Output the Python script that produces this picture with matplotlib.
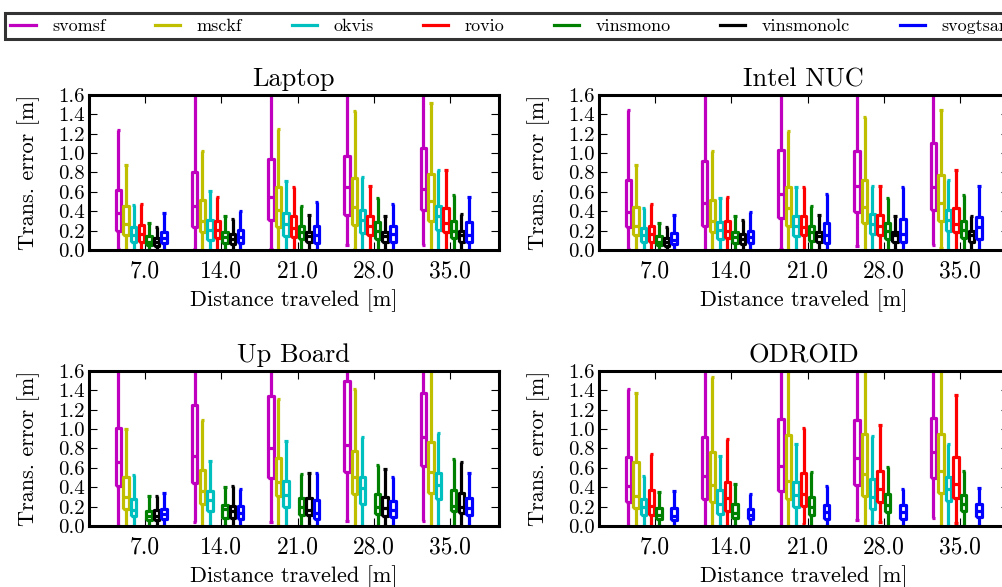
import matplotlib
matplotlib.use('Agg')
import matplotlib.pyplot as plt
from matplotlib.lines import Line2D
import numpy as np

plt.rcParams['font.family'] = 'cmr10'
plt.rcParams['mathtext.fontset'] = 'cm'
plt.rcParams['axes.formatter.use_mathtext'] = True

# Data
distances = [7.0, 14.0, 21.0, 28.0, 35.0]
methods = ['svomsf', 'msckf', 'okvis', 'rovio', 'vinsmono', 'vinsmonolc', 'svogtsam']
colors = ['m', 'y', 'c', 'r', 'g', 'k', 'b']
platforms = ['Laptop', 'Intel NUC', 'Up Board', 'ODROID']

# rows = methods, columns = distances; None = method not run on this platform
# (whiskers above 1.6 are clipped by the axis, value is a guess)
laptop_lo = [[0.01, 0.01, 0.01, 0.05, 0.05], [0, 0, 0, 0.01, 0], [0, 0, 0, 0, 0],
             [0, 0, 0, 0, 0], [0, 0, 0, 0, 0], [0, 0, 0, 0, 0], [0, 0, 0, 0, 0]]
laptop_q1 = [[0.20, 0.235, 0.31, 0.365, 0.41], [0.16, 0.185, 0.235, 0.265, 0.305],
             [0.085, 0.11, 0.15, 0.18, 0.21], [0.085, 0.125, 0.14, 0.16, 0.19],
             [0.05, 0.08, 0.115, 0.12, 0.13], [0.045, 0.06, 0.09, 0.085, 0.09],
             [0.07, 0.07, 0.07, 0.085, 0.09]]
laptop_med = [[0.38, 0.455, 0.55, 0.65, 0.635], [0.27, 0.305, 0.41, 0.45, 0.505],
              [0.16, 0.21, 0.27, 0.315, 0.35], [0.17, 0.21, 0.225, 0.255, 0.28],
              [0.09, 0.14, 0.19, 0.20, 0.195], [0.085, 0.12, 0.145, 0.145, 0.16],
              [0.125, 0.135, 0.155, 0.17, 0.16]]
laptop_q3 = [[0.62, 0.80, 0.94, 0.97, 1.05], [0.455, 0.52, 0.65, 0.745, 0.785],
             [0.24, 0.315, 0.38, 0.415, 0.46], [0.26, 0.30, 0.35, 0.355, 0.435],
             [0.145, 0.19, 0.25, 0.29, 0.305], [0.13, 0.17, 0.19, 0.19, 0.20],
             [0.19, 0.205, 0.245, 0.255, 0.29]]
laptop_hi = [[1.24, 2.0, 2.0, 2.0, 2.0], [0.88, 1.02, 1.245, 1.435, 1.51],
             [0.47, 0.61, 0.71, 0.75, 0.825], [0.48, 0.55, 0.65, 0.66, 0.825],
             [0.28, 0.355, 0.455, 0.54, 0.57], [0.24, 0.32, 0.36, 0.355, 0.375],
             [0.38, 0.40, 0.50, 0.48, 0.55]]

nuc_lo = [[0.01, 0, 0.01, 0.04, 0.05], [0, 0, 0, 0, 0.025], [0, 0, 0, 0, 0],
          [0, 0, 0, 0, 0], [0, 0, 0, 0, 0], [0, 0, 0, 0, 0], [0, 0, 0, 0, 0]]
nuc_q1 = [[0.235, 0.255, 0.335, 0.395, 0.415], [0.16, 0.185, 0.245, 0.28, 0.305],
          [0.085, 0.12, 0.15, 0.17, 0.20], [0.09, 0.125, 0.155, 0.16, 0.185],
          [0.05, 0.075, 0.10, 0.12, 0.125], [0.045, 0.06, 0.09, 0.085, 0.09],
          [0.06, 0.07, 0.075, 0.09, 0.12]]
nuc_med = [[0.395, 0.485, 0.58, 0.66, 0.65], [0.255, 0.305, 0.43, 0.45, 0.485],
           [0.16, 0.205, 0.255, 0.275, 0.315], [0.17, 0.20, 0.235, 0.255, 0.275],
           [0.09, 0.135, 0.19, 0.20, 0.21], [0.085, 0.115, 0.15, 0.155, 0.16],
           [0.11, 0.135, 0.16, 0.17, 0.235]]
nuc_q3 = [[0.72, 0.915, 1.03, 1.02, 1.10], [0.45, 0.52, 0.65, 0.72, 0.77],
          [0.23, 0.29, 0.35, 0.375, 0.415], [0.255, 0.30, 0.355, 0.36, 0.44],
          [0.145, 0.19, 0.255, 0.285, 0.305], [0.125, 0.17, 0.19, 0.19, 0.20],
          [0.18, 0.20, 0.28, 0.32, 0.34]]
nuc_hi = [[1.44, 2.0, 2.0, 2.0, 2.0], [0.875, 1.02, 1.23, 1.37, 1.44],
          [0.44, 0.54, 0.65, 0.66, 0.725], [0.48, 0.55, 0.65, 0.66, 0.825],
          [0.28, 0.35, 0.46, 0.54, 0.57], [0.235, 0.31, 0.36, 0.355, 0.355],
          [0.36, 0.39, 0.58, 0.655, 0.66]]

up_lo = [[0, 0.04, 0.04, 0.05, 0.05], [0, 0, 0, 0, 0], [0, 0, 0, 0, 0], None,
         [0, 0, 0, 0, 0], [0, 0, 0, 0, 0], [0, 0, 0, 0, 0]]
up_q1 = [[0.41, 0.445, 0.50, 0.56, 0.62], [0.18, 0.23, 0.31, 0.33, 0.34],
         [0.11, 0.16, 0.195, 0.23, 0.28], None,
         [0.06, 0.085, 0.12, 0.125, 0.155], [0.06, 0.085, 0.12, 0.11, 0.135],
         [0.07, 0.075, 0.075, 0.10, 0.115]]
up_med = [[0.66, 0.72, 0.80, 0.835, 0.915], [0.30, 0.36, 0.455, 0.51, 0.555],
          [0.17, 0.27, 0.325, 0.39, 0.42], None,
          [0.11, 0.175, 0.20, 0.195, 0.205], [0.11, 0.16, 0.17, 0.185, 0.195],
          [0.125, 0.14, 0.135, 0.17, 0.19]]
up_q3 = [[1.01, 1.245, 1.34, 1.49, 1.375], [0.51, 0.58, 0.705, 0.77, 0.87],
         [0.28, 0.365, 0.47, 0.505, 0.55], None,
         [0.16, 0.22, 0.29, 0.33, 0.37], [0.17, 0.21, 0.29, 0.30, 0.34],
         [0.18, 0.205, 0.27, 0.265, 0.29]]
up_hi = [[2.0, 2.0, 2.0, 2.0, 2.0], [1.0, 1.09, 1.31, 1.41, 2.0],
         [0.53, 0.675, 0.875, 0.92, 0.955], None,
         [0.31, 0.40, 0.54, 0.63, 0.69], [0.31, 0.415, 0.55, 0.59, 0.66],
         [0.34, 0.385, 0.545, 0.505, 0.545]]

odroid_lo = [[0, 0, 0, 0.06, 0.085], [0, 0, 0, 0, 0], [0, 0, 0, 0, 0],
             [0, 0, 0.02, 0.04, 0.035], [0, 0, 0, 0, 0], None, [0, 0, 0, 0, 0]]
odroid_q1 = [[0.245, 0.28, 0.365, 0.425, 0.495], [0.19, 0.245, 0.285, 0.31, 0.345],
             [0.12, 0.125, 0.195, 0.175, 0.26], [0.12, 0.16, 0.21, 0.25, 0.29],
             [0.07, 0.085, 0.12, 0.145, 0.155], None,
             [0.06, 0.07, 0.075, 0.075, 0.095]]
odroid_med = [[0.41, 0.515, 0.615, 0.70, 0.765], [0.315, 0.42, 0.47, 0.535, 0.57],
              [0.195, 0.23, 0.32, 0.305, 0.38], [0.21, 0.29, 0.33, 0.385, 0.43],
              [0.12, 0.135, 0.20, 0.22, 0.23], None,
              [0.105, 0.12, 0.15, 0.145, 0.155]]
odroid_q3 = [[0.71, 0.92, 1.105, 1.095, 1.115], [0.665, 0.765, 0.94, 0.95, 0.945],
             [0.28, 0.375, 0.46, 0.485, 0.505], [0.375, 0.46, 0.55, 0.565, 0.71],
             [0.185, 0.23, 0.30, 0.335, 0.325], None,
             [0.185, 0.175, 0.215, 0.22, 0.23]]
odroid_hi = [[1.415, 2.0, 2.0, 2.0, 2.0], [1.37, 1.54, 2.0, 2.0, 2.0],
             [0.52, 0.725, 0.85, 0.925, 0.85], [0.745, 0.895, 1.015, 1.04, 1.355],
             [0.355, 0.43, 0.56, 0.61, 0.57], None,
             [0.36, 0.335, 0.41, 0.38, 0.39]]

platform_data = [
    (laptop_lo, laptop_q1, laptop_med, laptop_q3, laptop_hi),
    (nuc_lo, nuc_q1, nuc_med, nuc_q3, nuc_hi),
    (up_lo, up_q1, up_med, up_q3, up_hi),
    (odroid_lo, odroid_q1, odroid_med, odroid_q3, odroid_hi),
]

# Figure
W, H = 1002, 587
fig = plt.figure(figsize=(W / 100, H / 100), dpi=100)

ax_w = 410 / W
ax_h = 155.6 / H
lefts = [88.7 / W, 598.7 / W]
bottoms = [1 - 250.3 / H, 1 - 526.3 / H]
rects = [(lefts[0], bottoms[0]), (lefts[1], bottoms[0]),
         (lefts[0], bottoms[1]), (lefts[1], bottoms[1])]

x = np.arange(1, len(distances) + 1)
offsets = np.arange(-0.35, 0.3, 0.1)

for k, name in enumerate(platforms):
    ax = fig.add_axes([rects[k][0], rects[k][1], ax_w, ax_h])
    lo, q1, med, q3, hi = platform_data[k]
    for i in range(len(methods)):
        if med[i] is None:
            continue
        stats = []
        for j in range(len(distances)):
            stats.append(dict(whislo=lo[i][j], q1=q1[i][j], med=med[i][j],
                              q3=q3[i][j], whishi=hi[i][j], fliers=[]))
        lp = dict(color=colors[i], linewidth=2.3, solid_capstyle='butt')
        ax.bxp(stats, positions=x + offsets[i], widths=0.072, capwidths=0.045,
               showfliers=False, manage_ticks=False,
               boxprops=lp, whiskerprops=lp, capprops=lp, medianprops=lp)
    ax.set_xlim(0.26, 5.64)
    ax.set_ylim(0, 1.6)
    ax.set_xticks(x)
    ax.set_xticklabels(['%.1f' % d for d in distances])
    yt = np.arange(0, 1.61, 0.2)
    ax.set_yticks(yt)
    ax.set_yticklabels(['%.1f' % v for v in yt])
    ax.tick_params(direction='in', top=True, right=True, length=6, width=0.8)
    ax.tick_params(axis='x', pad=7, labelsize=17)
    ax.tick_params(axis='y', pad=3, labelsize=15)
    for s in ax.spines.values():
        s.set_linewidth(2.2)
    ax.set_title(name, fontsize=19, pad=6)
    ax.set_xlabel('Distance traveled [m]', fontsize=16, labelpad=5)
    ax.set_ylabel('Trans. error [m]', fontsize=16, labelpad=13)

handles = [Line2D([0], [0], color=c, lw=2.3) for c in colors]
leg = fig.legend(handles, methods, loc='upper left', ncol=7,
                 bbox_to_anchor=(5 / W, 1 - 13 / H), borderaxespad=0,
                 fontsize=13, handlelength=1.4, handletextpad=0.9,
                 columnspacing=2.75, borderpad=0.3, fancybox=False, frameon=True)
leg.get_frame().set_edgecolor('black')
leg.get_frame().set_linewidth(2.2)

fig.savefig('out.png', dpi=100)
